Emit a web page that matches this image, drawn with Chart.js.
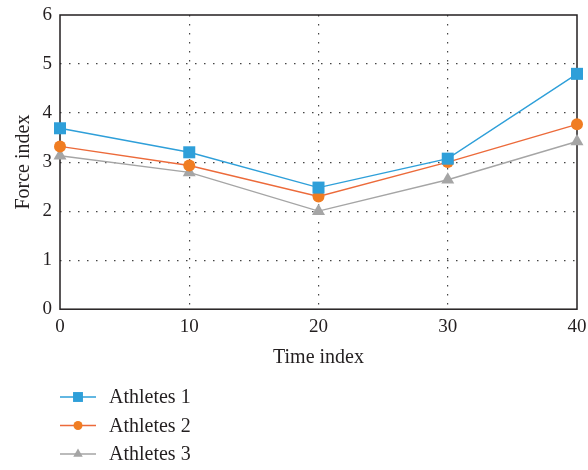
<!DOCTYPE html>
<html>
<head>
<meta charset="utf-8">
<script src="https://cdn.jsdelivr.net/npm/chart.js"></script>
<style>
  html, body { margin: 0; padding: 0; background: #fff; }
</style>
</head>
<body>
<canvas id="chart" width="588" height="470"></canvas>
<script>
// values
const timeIndex = [0, 10, 20, 30, 40];
const athletes1 = [3.69, 3.2, 2.48, 3.07, 4.8];
const athletes2 = [3.32, 2.93, 2.3, 3.0, 3.77];
const athletes3 = [3.13, 2.79, 2.0, 2.64, 3.42];
const seriesNames = ["Athletes 1", "Athletes 2", "Athletes 3"];

const FONT = "'Liberation Serif', 'DejaVu Serif', serif";
const TEXT = "#231f20";

function toPoints(vals) {
  return vals.map((v, i) => ({ x: timeIndex[i], y: v }));
}

// frame around the plot area (drawn before the lines so markers sit on top)
const boxPlugin = {
  id: "box",
  beforeDatasetsDraw(chart) {
    const a = chart.chartArea, ctx = chart.ctx;
    ctx.save();
    ctx.strokeStyle = "#231f20";
    ctx.lineWidth = 1.5;
    ctx.strokeRect(a.left, a.top, a.right - a.left, a.bottom - a.top);
    ctx.restore();
  }
};

// vertical legend under the plot, line + marker like the original
const legendPlugin = {
  id: "vlegend",
  afterDraw(chart) {
    const ctx = chart.ctx;
    const x0 = 60, y0 = 397, gap = 28.5;
    const legendRadius = { rect: 7, circle: 4.5, triangle: 5.5 };
    ctx.save();
    chart.data.datasets.forEach((ds, i) => {
      const y = y0 + i * gap;
      ctx.strokeStyle = ds.borderColor;
      ctx.lineWidth = 1.3;
      ctx.beginPath();
      ctx.moveTo(x0, y);
      ctx.lineTo(x0 + 36, y);
      ctx.stroke();
      ctx.fillStyle = ds.pointBackgroundColor;
      ctx.strokeStyle = ds.pointBackgroundColor;
      Chart.helpers.drawPoint(ctx, {
        pointStyle: ds.pointStyle,
        radius: legendRadius[ds.pointStyle],
        borderWidth: 0
      }, x0 + 18, y);
      ctx.fillStyle = TEXT;
      ctx.font = "20px " + FONT;
      ctx.textBaseline = "middle";
      ctx.fillText(ds.label, x0 + 49, y + 1);
    });
    ctx.restore();
  }
};

const gridColor = (c) => (c.index === 0 || c.index === c.scale.ticks.length - 1) ? "rgba(0,0,0,0)" : "#444";

new Chart(document.getElementById("chart"), {
  type: "line",
  data: {
    datasets: [
      {
        label: seriesNames[0], data: toPoints(athletes1), clip: false,
        borderColor: "#2e9fd9", pointBackgroundColor: "#2e9fd9", pointBorderColor: "#2e9fd9",
        pointStyle: "rect", pointRadius: 8.5, pointBorderWidth: 0, borderWidth: 1.4
      },
      {
        label: seriesNames[1], data: toPoints(athletes2), clip: false,
        borderColor: "#ec6a3a", pointBackgroundColor: "#f07d22", pointBorderColor: "#f07d22",
        pointStyle: "circle", pointRadius: 6, pointBorderWidth: 0, borderWidth: 1.4
      },
      {
        label: seriesNames[2], data: toPoints(athletes3), clip: false,
        borderColor: "#a5a5a5", pointBackgroundColor: "#a5a5a5", pointBorderColor: "#a5a5a5",
        pointStyle: "triangle", pointRadius: 7.5, pointBorderWidth: 0, borderWidth: 1.4
      }
    ]
  },
  options: {
    responsive: false,
    animation: false,
    devicePixelRatio: 1,
    layout: { padding: { top: 15, right: 11, bottom: 96, left: 8 } },
    plugins: { legend: { display: false }, tooltip: { enabled: false } },
    scales: {
      x: {
        type: "linear", min: 0, max: 40,
        afterFit(scale) { scale.paddingLeft = 0; scale.paddingRight = 0; },
        ticks: { stepSize: 10, color: TEXT, font: { family: FONT, size: 19 }, padding: 6 },
        grid: { color: gridColor, drawTicks: false, lineWidth: 1.2 },
        border: { display: false, dash: [1.5, 7.5] },
        title: { display: true, text: "Time index", color: TEXT, font: { family: FONT, size: 20 }, padding: { top: 2 } }
      },
      y: {
        min: 0, max: 6,
        afterFit(scale) { scale.width = 52; scale.paddingTop = 0; scale.paddingBottom = 0; },
        ticks: { stepSize: 1, color: TEXT, font: { family: FONT, size: 19 }, padding: 8 },
        grid: { color: gridColor, drawTicks: false, lineWidth: 1.2 },
        border: { display: false, dash: [1.5, 7.5] },
        title: { display: true, text: "Force index", color: TEXT, font: { family: FONT, size: 20 }, padding: { bottom: 4 } }
      }
    }
  },
  plugins: [boxPlugin, legendPlugin]
});
</script>
</body>
</html>
